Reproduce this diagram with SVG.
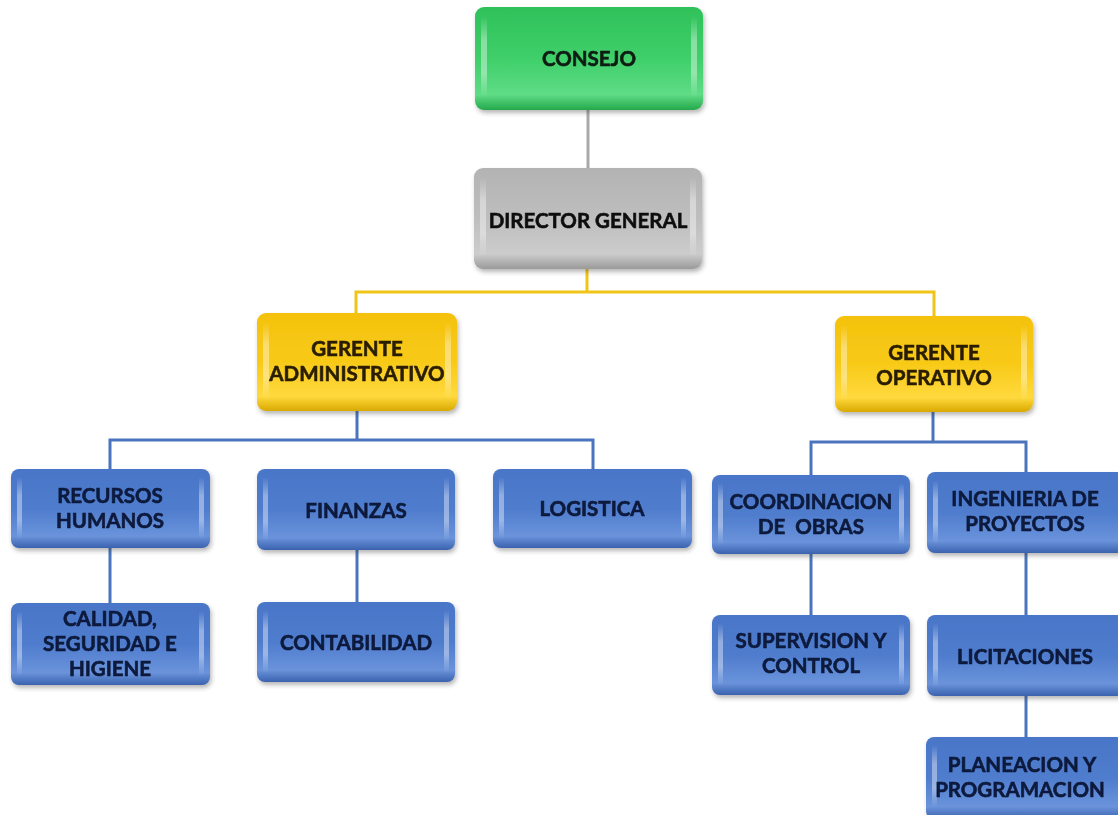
<svg xmlns="http://www.w3.org/2000/svg" width="1118" height="815" viewBox="0 0 1118 815">
<style>
text{font-family:Lato,"Open Sans","Liberation Sans",sans-serif;font-weight:bold;font-size:20.5px;text-anchor:middle;white-space:pre;stroke-width:0.6px}
.tg{fill:#0f1f12;stroke:#0f1f12}.tk{fill:#111;stroke:#111}.ty{fill:#2a1f05;stroke:#2a1f05}.tb{fill:#0c1a3c;stroke:#0c1a3c}
.gray{stroke:#a9a9a9;stroke-width:3;fill:none}
.yel{stroke:#f0c419;stroke-width:3;fill:none}
.blu{stroke:#4a74bb;stroke-width:3;fill:none}
.hl{fill:url(#hl)}
</style>
<defs>
<filter id="sh" x="-10%" y="-10%" width="125%" height="130%"><feDropShadow dx="1.5" dy="3" stdDeviation="2" flood-color="#333" flood-opacity=".35"/></filter>
<linearGradient id="gG" x1="0" y1="0" x2="0" y2="1"><stop offset="0" stop-color="#2fc15a"/><stop offset=".5" stop-color="#3fcf6a"/><stop offset=".85" stop-color="#5fdc86"/><stop offset="1" stop-color="#24a84b"/></linearGradient>
<linearGradient id="gK" x1="0" y1="0" x2="0" y2="1"><stop offset="0" stop-color="#b3b3b3"/><stop offset=".5" stop-color="#bebebe"/><stop offset=".85" stop-color="#cccccc"/><stop offset="1" stop-color="#9a9a9a"/></linearGradient>
<linearGradient id="gY" x1="0" y1="0" x2="0" y2="1"><stop offset="0" stop-color="#f4c20d"/><stop offset=".5" stop-color="#f8ca18"/><stop offset=".85" stop-color="#ffd93d"/><stop offset="1" stop-color="#d9a900"/></linearGradient>
<linearGradient id="gB" x1="0" y1="0" x2="0" y2="1"><stop offset="0" stop-color="#4a76c8"/><stop offset=".5" stop-color="#4f7ccd"/><stop offset=".85" stop-color="#6a93db"/><stop offset="1" stop-color="#3a62ae"/></linearGradient>
<linearGradient id="hl" x1="0" y1="0" x2="0" y2="1"><stop offset="0" stop-color="#fff" stop-opacity="0"/><stop offset=".3" stop-color="#fff" stop-opacity=".4"/><stop offset=".7" stop-color="#fff" stop-opacity=".4"/><stop offset="1" stop-color="#fff" stop-opacity="0"/></linearGradient>
</defs>

<g id="connectors">
<path class="gray" d="M588 110V168"/>
<path class="yel" d="M587 269V292M356 292H934M356 290.5V313M934 290.5V317"/>
<path class="blu" d="M357 411V440M110 440H593M110 438.5V469M593 438.5V469M110 548V603M357 550V602"/>
<path class="blu" d="M933 412V442M811 442H1027M811 440.5V475M1026 440.5V472M811 554V615M1026 553V615M1026 696V737"/>
</g>

<g id="consejo" filter="url(#sh)">
<rect x="475" y="7" width="228" height="103" rx="9" fill="url(#gG)"/>
<rect class="hl" x="481" y="16" width="6" height="82" rx="3"/><rect class="hl" x="691" y="16" width="6" height="82" rx="3"/>
<text class="tg" x="589" y="65.5">CONSEJO</text>
</g>
<g id="director" filter="url(#sh)">
<rect x="474" y="168" width="228" height="101" rx="9" fill="url(#gK)"/>
<rect class="hl" x="480" y="177" width="6" height="80" rx="3"/><rect class="hl" x="690" y="177" width="6" height="80" rx="3"/>
<text class="tk" x="588" y="227.5">DIRECTOR GENERAL</text>
</g>
<g id="gerente-administrativo" filter="url(#sh)">
<rect x="257" y="313" width="200" height="98" rx="9" fill="url(#gY)"/>
<rect class="hl" x="263" y="322" width="6" height="78" rx="3"/><rect class="hl" x="445" y="322" width="6" height="78" rx="3"/>
<text class="ty" x="357" y="356">GERENTE</text>
<text class="ty" x="357" y="381">ADMINISTRATIVO</text>
</g>
<g id="gerente-operativo" filter="url(#sh)">
<rect x="835" y="316" width="198" height="96" rx="9" fill="url(#gY)"/>
<rect class="hl" x="841" y="325" width="6" height="76" rx="3"/><rect class="hl" x="1021" y="325" width="6" height="76" rx="3"/>
<text class="ty" x="934" y="360">GERENTE</text>
<text class="ty" x="934" y="385">OPERATIVO</text>
</g>

<g id="recursos-humanos" filter="url(#sh)">
<rect x="11" y="469" width="199" height="79" rx="8" fill="url(#gB)"/>
<rect class="hl" x="17" y="477" width="5" height="62" rx="2.5"/><rect class="hl" x="199" y="477" width="5" height="62" rx="2.5"/>
<text class="tb" x="110" y="502.5">RECURSOS</text>
<text class="tb" x="110" y="527.5">HUMANOS</text>
</g>
<g id="finanzas" filter="url(#sh)">
<rect x="257" y="469" width="198" height="81" rx="8" fill="url(#gB)"/>
<rect class="hl" x="263" y="477" width="5" height="64" rx="2.5"/><rect class="hl" x="444" y="477" width="5" height="64" rx="2.5"/>
<text class="tb" x="356" y="517.5">FINANZAS</text>
</g>
<g id="logistica" filter="url(#sh)">
<rect x="493" y="469" width="199" height="79" rx="8" fill="url(#gB)"/>
<rect class="hl" x="499" y="477" width="5" height="62" rx="2.5"/><rect class="hl" x="681" y="477" width="5" height="62" rx="2.5"/>
<text class="tb" x="592" y="515.5">LOGISTICA</text>
</g>
<g id="calidad" filter="url(#sh)">
<rect x="11" y="603" width="199" height="82" rx="8" fill="url(#gB)"/>
<rect class="hl" x="17" y="611" width="5" height="65" rx="2.5"/><rect class="hl" x="199" y="611" width="5" height="65" rx="2.5"/>
<text class="tb" x="110" y="625.5">CALIDAD,</text>
<text class="tb" x="110" y="650.5">SEGURIDAD E</text>
<text class="tb" x="110" y="675.5">HIGIENE</text>
</g>
<g id="contabilidad" filter="url(#sh)">
<rect x="257" y="602" width="198" height="80" rx="8" fill="url(#gB)"/>
<rect class="hl" x="263" y="610" width="5" height="63" rx="2.5"/><rect class="hl" x="444" y="610" width="5" height="63" rx="2.5"/>
<text class="tb" x="356" y="649.5">CONTABILIDAD</text>
</g>
<g id="coordinacion" filter="url(#sh)">
<rect x="712" y="475" width="198" height="79" rx="8" fill="url(#gB)"/>
<rect class="hl" x="718" y="483" width="5" height="62" rx="2.5"/><rect class="hl" x="899" y="483" width="5" height="62" rx="2.5"/>
<text class="tb" x="811" y="508.5">COORDINACION</text>
<text class="tb" x="811" y="533.5">DE  OBRAS</text>
</g>
<g id="ingenieria" filter="url(#sh)">
<rect x="927" y="472" width="198" height="81" rx="8" fill="url(#gB)"/>
<rect class="hl" x="933" y="480" width="5" height="64" rx="2.5"/>
<text class="tb" x="1025" y="505.5">INGENIERIA DE</text>
<text class="tb" x="1025" y="530.5">PROYECTOS</text>
</g>
<g id="supervision" filter="url(#sh)">
<rect x="712" y="615" width="198" height="80" rx="8" fill="url(#gB)"/>
<rect class="hl" x="718" y="623" width="5" height="63" rx="2.5"/><rect class="hl" x="899" y="623" width="5" height="63" rx="2.5"/>
<text class="tb" x="811" y="647.5">SUPERVISION Y</text>
<text class="tb" x="811" y="672.5">CONTROL</text>
</g>
<g id="licitaciones" filter="url(#sh)">
<rect x="927" y="615" width="198" height="81" rx="8" fill="url(#gB)"/>
<rect class="hl" x="933" y="623" width="5" height="64" rx="2.5"/>
<text class="tb" x="1025" y="663.5">LICITACIONES</text>
</g>
<g id="planeacion" filter="url(#sh)">
<rect x="926" y="737" width="199" height="82" rx="8" fill="url(#gB)"/>
<rect class="hl" x="932" y="745" width="5" height="62" rx="2.5"/>
<text class="tb" x="1022" y="771.5">PLANEACION Y</text>
<text class="tb" x="1020" y="796.5">PROGRAMACION</text>
</g>
</svg>
